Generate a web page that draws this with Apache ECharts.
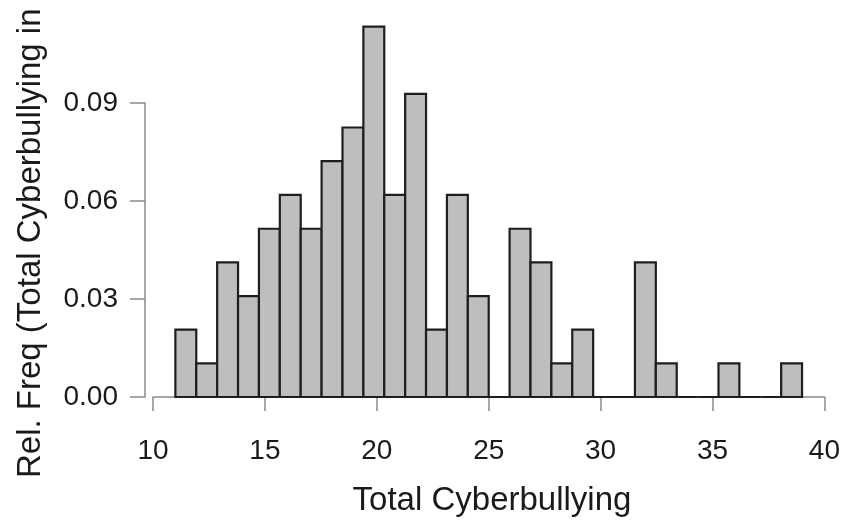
<!DOCTYPE html>
<html>
<head>
<meta charset="utf-8">
<script src="https://cdn.jsdelivr.net/npm/echarts@6/dist/echarts.min.js"></script>
<style>
html,body{margin:0;padding:0;background:#fff;}
#chart{width:843px;height:520px;}
</style>
</head>
<body>
<div id="chart"></div>
<script>
// Histogram bins: 30 equal-width bins from 11 to 39
const binMin = 11;
const binMax = 39;
// Relative frequency per bin
const relFreq = [0.0206, 0.0103, 0.0412, 0.0309, 0.0515, 0.0619, 0.0515, 0.0722, 0.0825, 0.1134,
                 0.0619, 0.0928, 0.0206, 0.0619, 0.0309, 0.0000, 0.0515, 0.0412, 0.0103, 0.0206,
                 0.0000, 0.0000, 0.0412, 0.0103, 0.0000, 0.0000, 0.0103, 0.0000, 0.0000, 0.0103];
const xTicks = [10, 15, 20, 25, 30, 35, 40];
const yTicks = [0.00, 0.03, 0.06, 0.09];
const xTitle = 'Total Cyberbullying';
const yTitle = 'Rel. Freq (Total Cyberbullying in';

const binW = (binMax - binMin) / relFreq.length;
const data = relFreq.map((v, i) => [binMin + (i + 0.5) * binW, v]);

const FONT = '"Liberation Sans", Arial, Helvetica, sans-serif';
const chart = echarts.init(document.getElementById('chart'), null, {renderer: 'canvas'});
chart.setOption({
  animation: false,
  backgroundColor: '#ffffff',
  grid: {left: 153, right: 13, top: 103, bottom: 123, containLabel: false},
  xAxis: {
    type: 'value',
    min: xTicks[0], max: xTicks[xTicks.length - 1], interval: xTicks[1] - xTicks[0],
    offset: 17,
    splitLine: {show: false},
    axisLine: {show: true, lineStyle: {color: '#8a8a8a', width: 1.5}},
    axisTick: {show: true, length: 14, lineStyle: {color: '#8a8a8a', width: 1.5}},
    axisLabel: {margin: 23, color: '#1a1a1a', fontSize: 28, fontFamily: FONT,
                showMinLabel: true, showMaxLabel: true, hideOverlap: false}
  },
  yAxis: {
    type: 'value',
    min: yTicks[0], max: yTicks[yTicks.length - 1], interval: yTicks[1] - yTicks[0],
    offset: 8,
    splitLine: {show: false},
    axisLine: {show: true, lineStyle: {color: '#8a8a8a', width: 1.5}},
    axisTick: {show: true, length: 15, lineStyle: {color: '#8a8a8a', width: 1.5}},
    axisLabel: {margin: 27, color: '#1a1a1a', fontSize: 28, fontFamily: FONT,
                formatter: v => v.toFixed(2)}
  },
  graphic: [
    {type: 'text', x: 492, y: 501,
     style: {text: xTitle, font: '33px ' + FONT, fill: '#1a1a1a', align: 'center', verticalAlign: 'middle'}},
    {type: 'text', x: 31, y: 478, rotation: Math.PI / 2,
     style: {text: yTitle, font: '33px ' + FONT, fill: '#1a1a1a', align: 'left', verticalAlign: 'middle'}}
  ],
  series: [{
    type: 'custom',
    clip: false,
    data: data,
    renderItem: function (params, api) {
      const c = api.value(0);
      const v = api.value(1);
      const p0 = api.coord([c - binW / 2, v]);
      const p1 = api.coord([c + binW / 2, 0]);
      return {
        type: 'rect',
        shape: {x: p0[0], y: p0[1], width: p1[0] - p0[0], height: p1[1] - p0[1]},
        style: {fill: '#bebebe', stroke: '#1e1e1e', lineWidth: 2.2}
      };
    }
  }]
});
</script>
</body>
</html>
